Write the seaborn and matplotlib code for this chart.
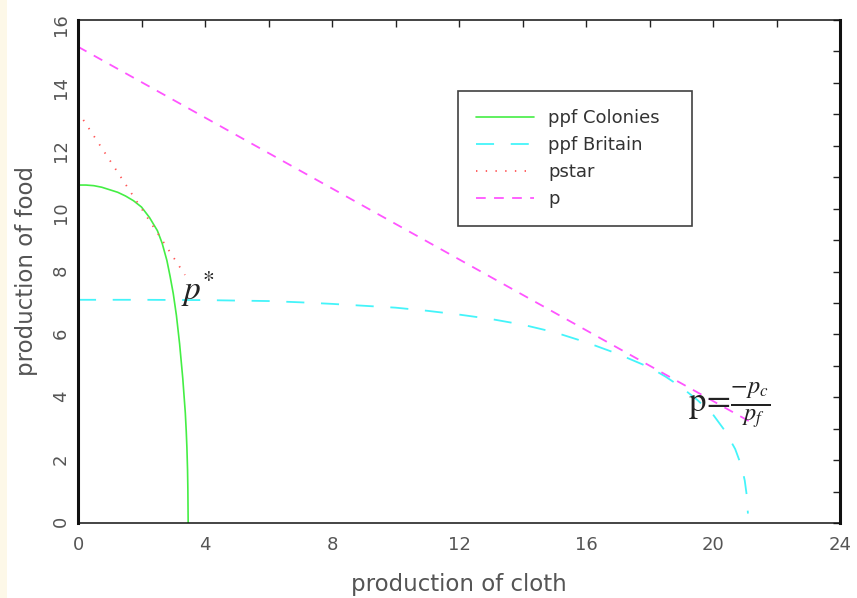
import matplotlib
matplotlib.use("Agg")
import matplotlib.pyplot as plt
from matplotlib.patches import Rectangle
from matplotlib.ticker import MultipleLocator, FuncFormatter
import seaborn as sns

# --- data ---
colonies_cloth = [0, 0.25, 0.5, 0.75, 1.0, 1.25, 1.5, 1.75, 2.0, 2.25, 2.5, 2.65, 2.8,
                  2.9, 3.0, 3.05, 3.1, 3.15, 3.2, 3.25, 3.3, 3.34, 3.38, 3.41, 3.43,
                  3.45, 3.46, 3.47]
colonies_food = [10.75, 10.75, 10.73, 10.68, 10.6, 10.52, 10.4, 10.25, 10.05, 9.72, 9.3,
                 8.9, 8.35, 7.85, 7.3, 6.95, 6.6, 6.15, 5.7, 5.15, 4.6, 4.05, 3.5, 2.9,
                 2.4, 1.7, 1.1, 0]

britain_cloth = [0, 2, 4, 6, 7, 8, 9, 10, 11, 12, 13, 14, 15, 16, 17, 18, 18.5, 19,
                 19.5, 20, 20.4, 20.7, 20.9, 21.0, 21.06, 21.1]
britain_food = [7.1, 7.1, 7.09, 7.06, 7.02, 6.97, 6.91, 6.85, 6.75, 6.63, 6.49, 6.31,
                6.07, 5.75, 5.38, 4.95, 4.66, 4.32, 3.92, 3.45, 2.9, 2.35, 1.8, 1.35,
                0.9, 0.3]

pstar_cloth = [0, 3.37]
pstar_food = [13.08, 7.89]

p_cloth = [0, 21.17]
p_food = [15.15, 3.22]

sns.set_style("white")
plt.rcParams["font.family"] = ["DejaVu Sans"]
plt.rcParams["mathtext.fontset"] = "stix"
plt.rcParams["lines.scale_dashes"] = False

fig = plt.figure(figsize=(8.57, 5.98), dpi=100)
fig.patches.append(Rectangle((0, 0), 7 / 857, 1, transform=fig.transFigure,
                             facecolor="#fdf8e8", edgecolor="none", zorder=-1))
ax = fig.add_axes([78 / 857, 1 - 523 / 598, 762 / 857, 503 / 598])

sns.lineplot(x=colonies_cloth, y=colonies_food, ax=ax, sort=False, estimator=None,
             color="#44ee44", linewidth=1.2, label="ppf Colonies")
sns.lineplot(x=britain_cloth, y=britain_food, ax=ax, sort=False, estimator=None,
             color="#44f4fa", linewidth=1.3, linestyle=(0, (13, 12)), label="ppf Britain")
sns.lineplot(x=pstar_cloth, y=pstar_food, ax=ax, sort=False, estimator=None,
             color="#ff5555", linewidth=1.3, linestyle=(0, (1, 6)), label="pstar")
sns.lineplot(x=p_cloth, y=p_food, ax=ax, sort=False, estimator=None,
             color="#ff55ff", linewidth=1.3, linestyle=(0, (7, 6)), label="p")

ax.set_xlim(0, 24)
ax.set_ylim(0, 16)
ax.xaxis.set_major_locator(MultipleLocator(4))
ax.xaxis.set_minor_locator(MultipleLocator(2))
ax.yaxis.set_major_locator(MultipleLocator(2))
ax.yaxis.set_minor_locator(MultipleLocator(1))
ax.xaxis.set_major_formatter(FuncFormatter(lambda v, _: f"{v:.0f}"))
ax.yaxis.set_major_formatter(FuncFormatter(lambda v, _: f"{v:.0f}"))

ax.tick_params(which="both", direction="in", top=True, right=True,
               length=5, width=1, color="#222222")
ax.tick_params(axis="x", which="major", labelsize=13, labelcolor="#555555", pad=9)
ax.tick_params(axis="y", which="major", labelsize=13, labelcolor="#555555", pad=6,
               labelrotation=90)

for side in ["left", "right"]:
    ax.spines[side].set_linewidth(2.2)
for side in ["top", "bottom"]:
    ax.spines[side].set_linewidth(1.1)
for side in ax.spines:
    ax.spines[side].set_color("#111111")

ax.set_xlabel("production of cloth", fontsize=16.5, color="#555555", labelpad=14)
ax.set_ylabel("production of food", fontsize=16.5, color="#555555", labelpad=10)

# annotations
ax.text(3.25, 7.45, r"$p^{*}$", fontsize=24, ha="left", va="center", color="#222222")
ax.text(19.2, 3.5, r"$\mathrm{p}\!=\!\frac{-p_c}{{}^{\ }p_f}$", fontsize=25, ha="left",
        va="baseline", color="#222222")

leg = ax.legend(loc="upper left", bbox_to_anchor=(458 / 857, 1 - 226 / 598, 234 / 857, 135 / 598),
                bbox_transform=fig.transFigure, mode="expand", fontsize=13, frameon=True,
                fancybox=False, edgecolor="#111111", handlelength=3.2,
                handletextpad=0.8, borderpad=1.0, labelspacing=0.5,
                borderaxespad=0)
leg.get_frame().set_linewidth(1.2)
for t in leg.get_texts():
    t.set_color("#333333")

fig.savefig("out.png", dpi=100)
